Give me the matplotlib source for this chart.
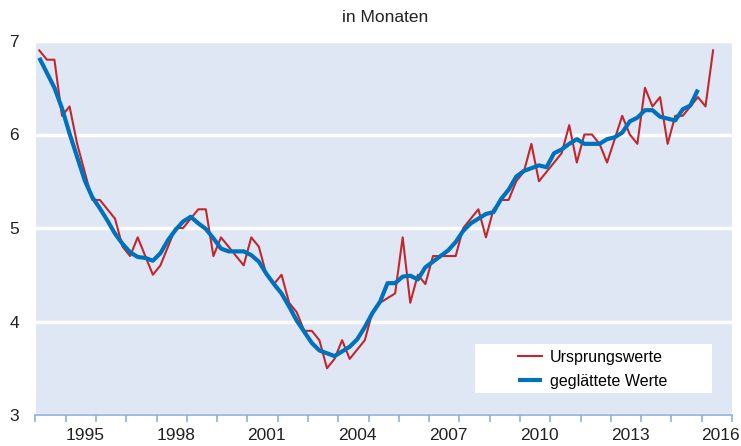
"""
Durchschnittliche Dauer in Monaten: Ursprungswerte und geglättete Werte.
"""

import matplotlib.pyplot as plt
import numpy as np
from matplotlib.patches import Rectangle

RED = "#c1272d"
BLUE = "#0071bc"
BACKGROUND = "#e0e7f4"
AXIS_BLUE = "#8fb0da"

plt.rcParams["font.family"] = ["Liberation Sans", "DejaVu Sans"]

# quarterly values, first quarter 1994 Q1
FIRST_YEAR = 1994

ursprungswerte = [
    6.9, 6.8, 6.8, 6.2, 6.3, 5.9, 5.6, 5.3, 5.3, 5.2,
    5.1, 4.8, 4.7, 4.9, 4.7, 4.5, 4.6, 4.8, 5.0, 5.0,
    5.1, 5.2, 5.2, 4.7, 4.9, 4.8, 4.7, 4.6, 4.9, 4.8,
    4.5, 4.4, 4.5, 4.2, 4.1, 3.9, 3.9, 3.8, 3.5, 3.6,
    3.8, 3.6, 3.7, 3.8, 4.1, 4.2, 4.25, 4.3, 4.9, 4.2,
    4.5, 4.4, 4.7, 4.7, 4.7, 4.7, 5.0, 5.1, 5.2, 4.9,
    5.2, 5.3, 5.3, 5.5, 5.6, 5.9, 5.5, 5.6, 5.7, 5.8,
    6.1, 5.7, 6.0, 6.0, 5.9, 5.7, 5.95, 6.2, 6.0, 5.9,
    6.5, 6.3, 6.4, 5.9, 6.2, 6.2, 6.3, 6.4, 6.3, 6.9,
]

geglaettete_werte = [
    6.82, 6.66, 6.50, 6.28, 6.01, 5.76, 5.51, 5.33, 5.21, 5.08,
    4.94, 4.83, 4.74, 4.69, 4.68, 4.65, 4.73, 4.87, 4.98, 5.07,
    5.12, 5.05, 4.99, 4.89, 4.78, 4.75, 4.75, 4.75, 4.71, 4.64,
    4.51, 4.40, 4.30, 4.16, 4.01, 3.89, 3.77, 3.69, 3.66, 3.63,
    3.68, 3.73, 3.81, 3.94, 4.09, 4.21, 4.41, 4.41, 4.48, 4.49,
    4.45, 4.58, 4.64, 4.70, 4.76, 4.85, 4.97, 5.05, 5.10, 5.15,
    5.17, 5.31, 5.41, 5.55, 5.61, 5.64, 5.67, 5.65, 5.80, 5.84,
    5.90, 5.95, 5.90, 5.90, 5.90, 5.95, 5.97, 6.02, 6.14, 6.18,
    6.26, 6.26, 6.19, 6.17, 6.15, 6.27, 6.31, 6.48,
]

year_ticks = list(range(1994, 2018))
year_labels = ["1995", "1998", "2001", "2004", "2007", "2010", "2013", "2016"]
y_ticks = [3, 4, 5, 6, 7]


def quarter_positions(values: list[float]) -> np.ndarray:
    """
    Place each quarter in the middle of its quarter year.
    """
    return FIRST_YEAR + (np.arange(len(values)) + 0.5) / 4


def plot_dauer() -> None:
    fig = plt.figure(figsize=(7.41, 4.46), dpi=100)
    ax = fig.add_axes([35.5 / 741, 31 / 446, 696.5 / 741, 374 / 446])

    ax.set_facecolor(BACKGROUND)
    for spine in ["top", "right", "left"]:
        ax.spines[spine].set_visible(False)
    ax.spines["bottom"].set_color(AXIS_BLUE)
    ax.spines["bottom"].set_linewidth(1.2)

    ax.set_xlim(1994, 2017)
    ax.set_ylim(3, 7)

    ax.set_yticks(y_ticks)
    ax.set_yticklabels([str(t) for t in y_ticks])
    ax.tick_params(axis="y", length=0, pad=12, labelsize=12.5, colors="#222222")
    ax.yaxis.grid(True, color="white", linewidth=2.5)
    ax.set_axisbelow(True)

    ax.set_xticks(year_ticks)
    ax.set_xticklabels([])
    ax.tick_params(axis="x", which="major", length=5, width=1.2, color=AXIS_BLUE)
    ax.set_xticks([int(y) + 0.63 for y in year_labels], minor=True)
    ax.set_xticklabels(year_labels, minor=True)
    ax.tick_params(axis="x", which="minor", length=0, pad=9.5, labelsize=12.5,
                   colors="#222222")

    ax.plot(quarter_positions(ursprungswerte), ursprungswerte, color=RED,
            linewidth=1.5, label="Ursprungswerte", clip_on=False)
    ax.plot(quarter_positions(geglaettete_werte), geglaettete_werte, color=BLUE,
            linewidth=3, label="geglättete Werte", solid_capstyle="butt")

    ax.add_patch(Rectangle((0.631, 0.0588), 0.340, 0.131, transform=ax.transAxes,
                           facecolor="white", edgecolor="none", zorder=3))
    legend = ax.legend(loc="center", bbox_to_anchor=(0.80, 0.1225), frameon=False,
                       fontsize=11.5, handlelength=1.5, handletextpad=0.5,
                       labelspacing=0.55)
    legend.set_zorder(4)

    fig.text(385 / 741, 1 - 17 / 446, "in Monaten", ha="center", va="center",
             fontsize=12.5, color="#222222")

    fig.savefig("out.png", dpi=100)


plot_dauer()
